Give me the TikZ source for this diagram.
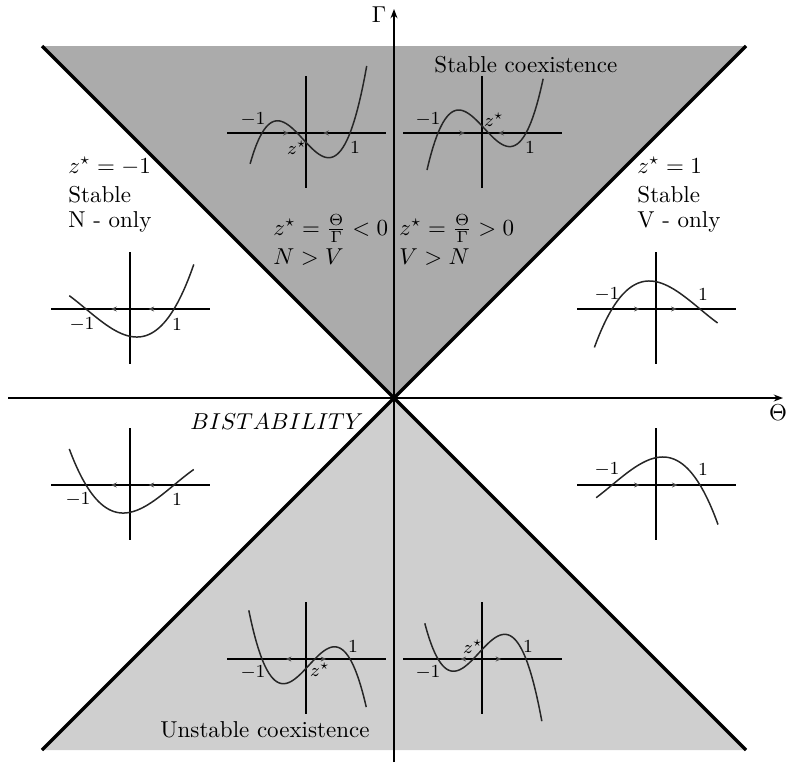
\documentclass[tikz,border=0pt]{standalone}
\usetikzlibrary{arrows.meta}
\begin{document}
\newcommand{\mplot}[5]{%
  \draw[maxis] ({#1-79},#2) -- ({#1+80},#2);
  \draw[maxis] (#1,{#2-57}) -- (#1,{#2+55});
  \draw[curve] plot[domain=#3:#4] ({#1+44*\x},{#2-(#5)});
}
\newcommand{\flowat}[4]{% cx, cy, z, dir
  \draw[flow] ({#1+44*#3-2.5*#4},#2) -- ({#1+44*#3+2.5*#4},#2);
}
\begin{tikzpicture}[x=0.435pt,y=-0.435pt,
  axisline/.style={line width=0.7pt,-{Stealth[length=4pt,width=3pt]}},
  edgeline/.style={line width=1.5pt},
  maxis/.style={line width=0.75pt},
  curve/.style={line width=0.65pt,black!85,smooth,samples=60},
  flow/.style={-{Stealth[length=2.4pt,width=2.2pt]},line width=0.3pt,black!70},
  lab/.style={font=\footnotesize,inner sep=0pt},
  txt/.style={inner sep=0pt,anchor=base west},
  upperfill/.style={fill=black!33},
  lowerfill/.style={fill=black!19}]
\useasboundingbox (0,0) rectangle (787,771);
% shaded regions
\fill[upperfill] (42,46) -- (746,46) -- (394,398) -- cycle;
\fill[lowerfill] (42,750) -- (746,750) -- (394,398) -- cycle;
% axes
\coordinate (xl) at (8,398);
\coordinate (xr) at (783,398);
\coordinate (yb) at (394,762);
\coordinate (yt) at (394,9);
\draw[axisline] (xl) -- (xr);
\draw[axisline] (yb) -- (yt);
\node[inner sep=0pt] (theta) at (778,413) {$\Theta$};
\node[inner sep=0pt] (gamma) at (379,15) {$\Gamma$};
% boundary lines
\coordinate (ul) at (42,46);
\coordinate (ur) at (746,46);
\coordinate (ll) at (42,750);
\coordinate (lr) at (746,750);
\draw[edgeline] (ul) -- (lr);
\draw[edgeline] (ur) -- (ll);
% mini plots
% P1
\mplot{306}{133}{-1.27}{1.38}{47*(\x+1)*(\x+0.2)*(\x-1)}
\flowat{306}{133}{-0.45}{1}\flowat{306}{133}{0.45}{-1}
\node[lab] (p1a) at (253,120) {$-1$};
\node[lab] (p1b) at (355,148) {$1$};
\node[lab] (p1c) at (297,148) {$z^\star$};
% P2
\mplot{482}{133}{-1.25}{1.39}{47*(\x+1)*(\x-0.15)*(\x-1)}
\flowat{482}{133}{-0.45}{1}\flowat{482}{133}{0.43}{-1}
\node[lab] (p2a) at (428,120) {$-1$};
\node[lab] (p2b) at (530,148) {$1$};
\node[lab] (p2c) at (494,120) {$z^\star$};
% P3
\mplot{130}{309}{-1.38}{1.45}{9.1*(\x*\x-1)*(\x+3)}
\flowat{130}{309}{-0.37}{-1}\flowat{130}{309}{0.48}{-1}
\node[lab] (p3a) at (82,325) {$-1$};
\node[lab] (p3b) at (177,325) {$1$};
% P4
\mplot{656}{309}{-1.4}{1.4}{9.1*(\x*\x-1)*(\x-3)}
\flowat{656}{309}{-0.43}{1}\flowat{656}{309}{0.41}{1}
\node[lab] (p4a) at (607,295) {$-1$};
\node[lab] (p4b) at (703,295) {$1$};
% P5
\mplot{130}{485}{-1.38}{1.45}{9.1*(\x*\x-1)*(3-\x)}
\flowat{130}{485}{-0.37}{-1}\flowat{130}{485}{0.48}{-1}
\node[lab] (p5a) at (78,500) {$-1$};
\node[lab] (p5b) at (177,500) {$1$};
% P6
\mplot{656}{485}{-1.36}{1.41}{-9.1*(\x*\x-1)*(\x+3)}
\flowat{656}{485}{-0.43}{1}\flowat{656}{485}{0.43}{1}
\node[lab] (p6a) at (607,470) {$-1$};
\node[lab] (p6b) at (703,470) {$1$};
% P7
\mplot{306}{659}{-1.3}{1.37}{-47*(\x+1)*(\x-0.2)*(\x-1)}
\flowat{306}{659}{-0.4}{-1}\flowat{306}{659}{0.4}{1}
\node[lab] (p7a) at (253,673) {$-1$};
\node[lab] (p7b) at (353,647) {$1$};
\node[lab] (p7c) at (320,670) {$z^\star$};
% P8
\mplot{482}{659}{-1.3}{1.36}{-47*(\x+1)*(\x+0.2)*(\x-1)}
\flowat{482}{659}{-0.43}{-1}\flowat{482}{659}{0.38}{1}
\node[lab] (p8a) at (428,673) {$-1$};
\node[lab] (p8b) at (528,647) {$1$};
\node[lab] (p8c) at (473,647) {$z^\star$};
% texts
\node[txt] (stabco) at (434,72) {Stable coexistence};
\node[txt] (unstco) at (160,737) {Unstable coexistence};
\node[txt] (bist) at (190,429) {$BISTABILITY$};
\node[txt] (l1) at (68,173) {$z^\star=-1$};
\node[txt] (l2) at (68,202) {Stable};
\node[txt] (l3) at (68,227) {N - only};
\node[txt] (r1) at (637,173) {$z^\star=1$};
\node[txt] (r2) at (637,202) {Stable};
\node[txt] (r3) at (637,227) {V - only};
\node[txt] (c1) at (273,235) {$z^\star=\frac{\Theta}{\Gamma}<0$};
\node[txt] (c2) at (273,264) {$N>V$};
\node[txt] (d1) at (399,235) {$z^\star=\frac{\Theta}{\Gamma}>0$};
\node[txt] (d2) at (399,264) {$V>N$};
\end{tikzpicture}
\end{document}
